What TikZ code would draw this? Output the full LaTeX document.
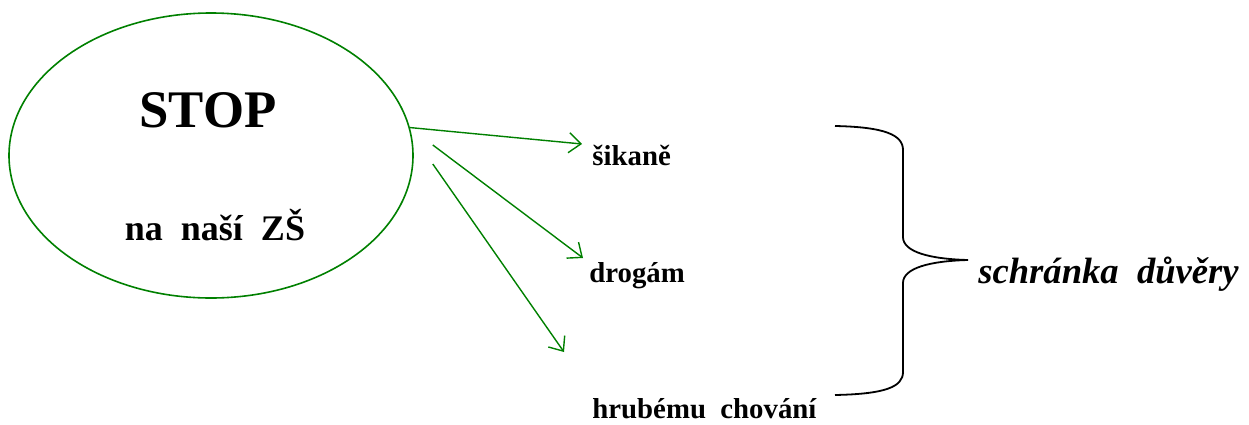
\documentclass[tikz,border=0pt]{standalone}
\usepackage{fontspec}
\setmainfont{Liberation Serif}
\usepackage{xcolor}
\usetikzlibrary{shapes.geometric,arrows.meta}
\definecolor{stopgreen}{RGB}{0,128,0}

\begin{document}
\begin{tikzpicture}[x=0.5pt,y=-0.5pt]
    % Define styles
    \tikzstyle{oval} = [ellipse, draw=stopgreen, line width=0.8pt, minimum width=202pt, minimum height=142.5pt, inner sep=0pt]
    \tikzstyle{item} = [inner sep=0pt, anchor=base west, font=\bfseries\fontsize{14.4}{17}\selectfont]
    \tikzstyle{arrow} = [stopgreen, line width=0.7pt, -{Straight Barb[length=6pt,width=10pt]}]
    \useasboundingbox (0,0) rectangle (1249,424);

    % Ellipse
    \node (oval) [oval] at (211,155.5) {};
    \node (stop) [inner sep=0pt, anchor=base, font=\bfseries\fontsize{26.4}{30}\selectfont] at (208,127) {STOP};
    \node (school) [inner sep=0pt, anchor=base, font=\bfseries\fontsize{18}{21}\selectfont] at (215,240) {na\ \ naší\ \ ZŠ};

    % Items
    \node (sikane) [item] at (592,165) {šikaně};
    \node (drogy) [item] at (589,282) {drogám};
    \node (hrube) [item] at (592,418) {hrubému\ \ chování};

    % Brace
    \draw [line width=0.9pt] (835,126) .. controls (885,127) and (903,135) .. (903,150) -- (903,237)
        .. controls (903,252) and (930,259) .. (968,260)
        .. controls (930,261) and (903,268) .. (903,283) -- (903,372)
        .. controls (903,387) and (885,394) .. (835,395);
    \node (schranka) [inner sep=0pt, anchor=base west, font=\bfseries\itshape\fontsize{18.3}{21}\selectfont] at (978,283) {schránka\ \ důvěry};

    % Arrows
    \draw [arrow] (oval.8) -- ([shift={(-10,-21)}]sikane.base west);
    \draw [arrow] ([shift={(19,-10.5)}]oval.east) -- ([shift={(-6,-24)}]drogy.base west);
    \draw [arrow] ([shift={(19,8.5)}]oval.east) -- ([shift={(-28,-66)}]hrube.base west);
\end{tikzpicture}
\end{document}
